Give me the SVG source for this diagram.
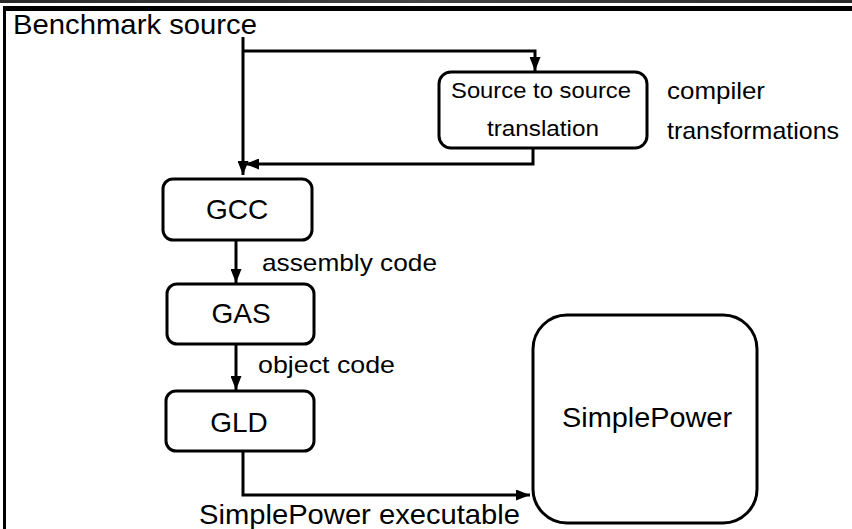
<svg xmlns="http://www.w3.org/2000/svg" width="852" height="529" viewBox="0 0 852 529">
<defs>
<linearGradient id="topg" x1="0" y1="0" x2="1" y2="0">
<stop offset="0" stop-color="#2a2a2a"/>
<stop offset="0.5" stop-color="#444"/>
<stop offset="1" stop-color="#2a2a2a"/>
</linearGradient>
<marker id="ah" viewBox="0 0 14 11" refX="14" refY="5.5" markerWidth="14" markerHeight="11" markerUnits="userSpaceOnUse" orient="auto">
<path d="M0,0 L14,5.5 L0,11 Z" fill="#000"/>
</marker>
</defs>
<style>
.box{fill:#fff;stroke:#000;stroke-width:3}
.t{font-family:"Liberation Sans",Arial,sans-serif;fill:#000}
.big{font-size:28px}
.sm{font-size:22px}
.lb{font-size:24px}
.c{stroke:#000;stroke-width:3;fill:none}
</style>
<rect x="0" y="0" width="852" height="529" fill="#fff"/>
<rect x="0" y="0" width="852" height="3" fill="url(#topg)"/>
<rect x="3" y="6" width="849" height="5" fill="#000"/>
<rect x="3" y="6" width="3" height="523" fill="#000"/>
<text class="t big" x="13" y="34" textLength="244" lengthAdjust="spacingAndGlyphs">Benchmark source</text>
<g id="connectors">
<path class="c" d="M243,37 V175" marker-end="url(#ah)"/>
<path class="c" d="M243,51 H535 V71" marker-end="url(#ah)"/>
<path class="c" d="M533,148 V164 H245" marker-end="url(#ah)"/>
<path class="c" d="M236,240 V283" marker-end="url(#ah)"/>
<path class="c" d="M236,344 V390" marker-end="url(#ah)"/>
<path class="c" d="M243,451 V495 H530" marker-end="url(#ah)"/>
<text class="t lb" x="262" y="271" textLength="175" lengthAdjust="spacingAndGlyphs">assembly code</text>
<text class="t lb" x="258" y="373" textLength="137" lengthAdjust="spacingAndGlyphs">object code</text>
<text class="t big" x="199" y="524" textLength="321" lengthAdjust="spacingAndGlyphs">SimplePower executable</text>
</g>
<g id="source2source">
<rect class="box" x="439" y="72" width="208" height="76" rx="12"/>
<text class="t sm" x="451" y="98" textLength="180" lengthAdjust="spacingAndGlyphs">Source to source</text>
<text class="t sm" x="487" y="136" textLength="112" lengthAdjust="spacingAndGlyphs">translation</text>
</g>
<g id="note">
<text class="t lb" x="667" y="99" textLength="98" lengthAdjust="spacingAndGlyphs">compiler</text>
<text class="t lb" x="667" y="139" textLength="172" lengthAdjust="spacingAndGlyphs">transformations</text>
</g>
<g id="gcc">
<rect class="box" x="163" y="179" width="149" height="61" rx="10"/>
<text class="t big" x="237" y="219" text-anchor="middle">GCC</text>
</g>
<g id="gas">
<rect class="box" x="167" y="284" width="147" height="60" rx="10"/>
<text class="t big" x="241" y="323" text-anchor="middle">GAS</text>
</g>
<g id="gld">
<rect class="box" x="166" y="391" width="148" height="60" rx="10"/>
<text class="t big" x="239" y="432" text-anchor="middle">GLD</text>
</g>
<g id="simplepower">
<rect class="box" x="533" y="315" width="224" height="208" rx="34"/>
<text class="t big" x="562" y="427" textLength="170" lengthAdjust="spacingAndGlyphs">SimplePower</text>
</g>
</svg>
